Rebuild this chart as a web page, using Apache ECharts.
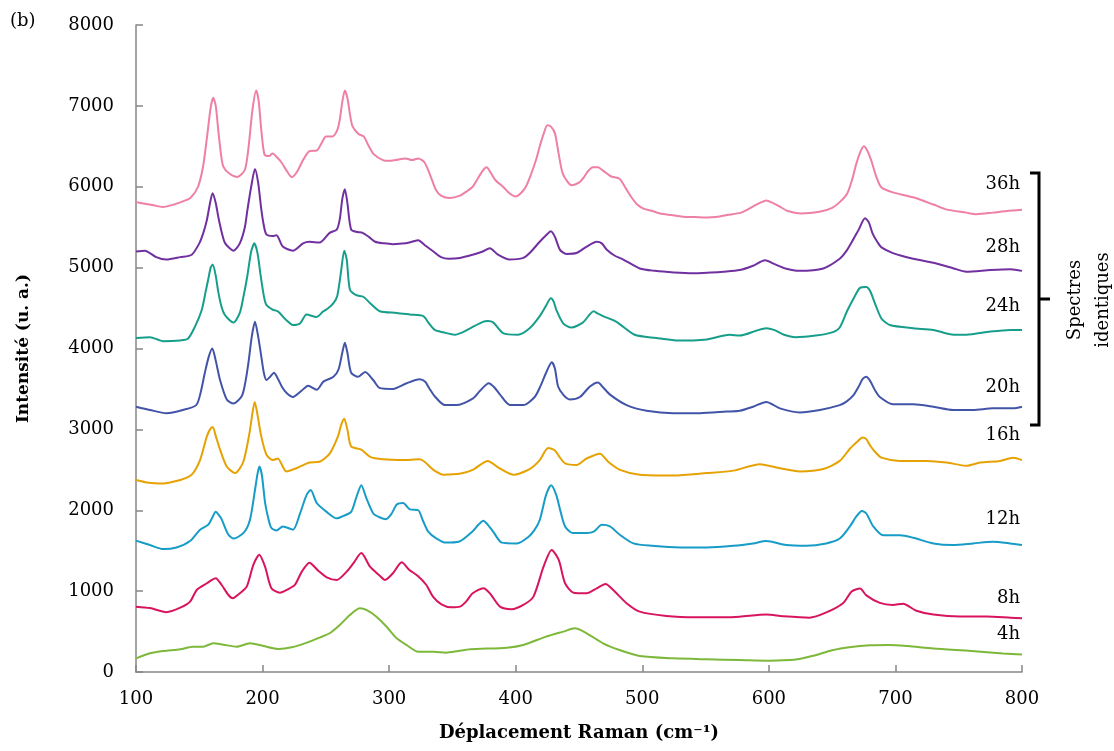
<!DOCTYPE html>
<html>
<head>
<meta charset="utf-8">
<script src="https://cdn.jsdelivr.net/npm/echarts@6/dist/echarts.min.js"></script>
<style>
html,body{margin:0;padding:0;background:#fff;}
#chart{width:1114px;height:751px;}
</style>
</head>
<body>
<div id="chart"></div>
<script>
// ---- Data (Raman shift cm-1, intensity a.u.) ----
const seriesNames = ['36h','28h','24h','20h','16h','12h','8h','4h'];
const seriesColors = ['#EE7FA5','#7030A0','#179E8A','#4254A8','#E6A202','#179CC8','#D8145F','#7DB83A'];

const s36h = [[100,5810],[107,5790],[114,5770],[121,5750],[130,5780],[137,5820],[143,5860],[149,6000],[153,6250],[156,6600],[159,6980],[161,7100],[163,7000],[165,6700],[167,6420],[169,6250],[174,6160],[180,6120],[186,6210],[189,6500],[192,6950],[195,7190],[197,7050],[199,6700],[201.5,6400],[205,6380],[208,6410],[211,6370],[215,6300],[219,6200],[223,6120],[227,6180],[232,6330],[237,6440],[243,6450],[247,6550],[250,6620],[255,6620],[259,6700],[261,6830],[263,7050],[265,7190],[267,7100],[269,6900],[271,6750],[276,6650],[280,6620],[284,6500],[288,6400],[295,6330],[300,6320],[305,6330],[313,6350],[318,6330],[323,6350],[328,6300],[333,6120],[337,5960],[341,5890],[348,5860],[356,5890],[361,5940],[366,6000],[370,6100],[374,6200],[377,6240],[380,6180],[384,6080],[390,6000],[395,5920],[400,5880],[404,5920],[408,6000],[412,6150],[416,6330],[419,6500],[422,6650],[425,6760],[428,6740],[431,6660],[434,6400],[437,6170],[441,6060],[444,6020],[450,6050],[454,6120],[457,6190],[461,6240],[465,6240],[469,6200],[475,6130],[482,6100],[487,5980],[491,5880],[496,5780],[501,5730],[508,5700],[514,5670],[523,5650],[532,5630],[542,5625],[551,5620],[560,5630],[567,5650],[578,5680],[588,5760],[593,5800],[598,5830],[603,5800],[608,5760],[615,5700],[625,5670],[640,5690],[650,5740],[656,5810],[662,5920],[666,6100],[669,6280],[672,6420],[675,6500],[678,6440],[681,6320],[685,6120],[689,5990],[698,5930],[714,5870],[730,5780],[740,5720],[756,5680],[764,5660],[777,5680],[788,5700],[800,5715]];

const s28h = [[100,5200],[107,5210],[116,5130],[124,5100],[135,5130],[144,5160],[150,5300],[153,5420],[156,5590],[158.5,5800],[160.5,5920],[163,5800],[165,5630],[168,5420],[170.5,5300],[177,5210],[182,5300],[186,5500],[188,5710],[191,6000],[194,6220],[196.5,6050],[199,5720],[201,5520],[203,5410],[208,5390],[211,5400],[216,5260],[224,5210],[232,5300],[237,5320],[245,5310],[253,5430],[258.6,5470],[261,5600],[263,5850],[265,5970],[267,5800],[270,5470],[275,5440],[279,5430],[284,5380],[289,5320],[296,5300],[303,5290],[313,5300],[318,5320],[323,5340],[328,5280],[335,5200],[341,5130],[347,5110],[356,5120],[366,5160],[374,5200],[379.5,5240],[386,5160],[395,5100],[406,5120],[411,5180],[419,5320],[424,5400],[427.7,5450],[431,5380],[435,5220],[440,5170],[448,5180],[456,5260],[464,5320],[468,5300],[472,5220],[478,5150],[485,5100],[498,4990],[510,4960],[525,4940],[540,4930],[554,4940],[564,4950],[577,4970],[587,5020],[597,5090],[605,5040],[613,4990],[624,4960],[643,4990],[656,5110],[661,5200],[666,5330],[671,5470],[676,5610],[679,5560],[682,5420],[686,5310],[689,5250],[698,5180],[714,5110],[730,5060],[746,4990],[756,4950],[775,4970],[791,4980],[800,4960]];

const s24h = [[100,4130],[111,4140],[121.5,4090],[135,4100],[141,4120],[146.6,4270],[152,4480],[155,4700],[157,4850],[159,5000],[160.6,5040],[163,4900],[165,4700],[167.5,4520],[170,4420],[174,4350],[177,4320],[182,4440],[185,4650],[188,4900],[191,5200],[193.5,5300],[196,5180],[198.5,4900],[201,4650],[203,4540],[208,4480],[212,4460],[218.8,4350],[224,4290],[229.6,4310],[234.8,4420],[242.7,4390],[248,4460],[252,4500],[256,4560],[259,4650],[262,4950],[264.5,5210],[266.5,5100],[269,4730],[274,4660],[279.6,4640],[285,4560],[292.7,4460],[305.9,4440],[316.5,4420],[327,4400],[331,4320],[336,4230],[342.8,4200],[352,4170],[358,4200],[364,4250],[374,4330],[378,4340],[382.4,4320],[390,4190],[401.7,4170],[411,4250],[419,4400],[424,4530],[427.7,4620],[430,4580],[432,4480],[437.5,4310],[444,4260],[453,4320],[461.6,4460],[465,4430],[469,4400],[479.6,4330],[494,4170],[511,4130],[527,4100],[540,4100],[551,4110],[569,4170],[577,4160],[590,4220],[598,4250],[604,4230],[612,4170],[621,4140],[637,4160],[650,4200],[656,4260],[662,4470],[668,4650],[672,4750],[677,4760],[680,4710],[684,4550],[689,4370],[695.6,4290],[714,4250],[730,4230],[746,4170],[756,4170],[775,4210],[791,4230],[800,4230]];

const s20h = [[100,3280],[111,3240],[124,3200],[137,3240],[147.6,3300],[151,3450],[154.4,3700],[157.5,3900],[160.3,4000],[163,3850],[166.4,3610],[171.7,3370],[177,3320],[183.5,3410],[186,3550],[188.8,3820],[191.5,4150],[194,4330],[196.5,4150],[199,3900],[201,3700],[203,3610],[206,3650],[209,3700],[212,3630],[215.5,3520],[219,3450],[224,3400],[231,3480],[236,3540],[242.8,3490],[248,3590],[256,3650],[260,3740],[263,3950],[265,4070],[267,3950],[270,3700],[275.5,3650],[281,3710],[287.4,3610],[292.7,3510],[303,3500],[313.8,3570],[324,3620],[328.5,3590],[332,3500],[336,3410],[344,3300],[353,3300],[366,3380],[372,3480],[378.7,3570],[383,3520],[387.6,3430],[395.5,3300],[406,3300],[415,3400],[420,3550],[424,3700],[428.5,3830],[431,3750],[433.5,3530],[438,3420],[442.7,3370],[450.7,3400],[458.6,3530],[465,3580],[469,3520],[474.5,3430],[487.6,3300],[503.4,3230],[524.5,3200],[545.6,3200],[566.6,3220],[577,3230],[587.5,3280],[598,3340],[608.7,3260],[624.5,3210],[640.3,3240],[656,3300],[661,3340],[666.7,3420],[671,3530],[674,3620],[677,3650],[680,3600],[684,3480],[687.7,3400],[698,3310],[714,3310],[730,3280],[745.6,3240],[761.4,3240],[777,3260],[793,3260],[800,3280]];

const s16h = [[100,2375],[110,2340],[119,2330],[135,2375],[144,2440],[150.6,2620],[155.9,2910],[158.5,3000],[160.6,3030],[163,2920],[166.4,2750],[171.7,2540],[178.3,2460],[184.8,2600],[189.6,2950],[192,3200],[193.8,3340],[196,3180],[199,2910],[203,2690],[208,2620],[212,2640],[218.8,2480],[226.7,2520],[237,2590],[245,2600],[253,2700],[259.5,2910],[262,3050],[264.5,3130],[267,3000],[270,2790],[278,2750],[285,2660],[295,2630],[311,2620],[324,2630],[328,2600],[335,2500],[343,2440],[355.6,2450],[366,2500],[378,2610],[386,2530],[398,2440],[411,2510],[419,2620],[425.6,2770],[431,2740],[435,2650],[439,2580],[448,2560],[456,2640],[466.5,2700],[473,2600],[482.4,2500],[498,2440],[524.5,2430],[551,2460],[572,2490],[593,2570],[608.7,2520],[624.5,2480],[643,2510],[656,2610],[664,2760],[670,2850],[674,2900],[677,2880],[680,2800],[684,2720],[689,2650],[703.6,2610],[724.6,2610],[740.5,2590],[756,2550],[767,2590],[782.6,2610],[793,2650],[800,2620]];

const s12h = [[100,1624],[111,1570],[121.6,1520],[132,1540],[142.7,1620],[150.6,1760],[157,1820],[160,1900],[163,1980],[165.5,1940],[167.6,1890],[172.9,1700],[177,1650],[185,1720],[190,1880],[194,2250],[196,2450],[197.5,2540],[199.5,2430],[202,2090],[204.5,1900],[207,1780],[211,1750],[216,1800],[224,1760],[229.6,1960],[234.8,2190],[238,2250],[242.8,2090],[250.6,1980],[258.5,1900],[263.8,1930],[270,1980],[274.3,2170],[278,2310],[282,2150],[287.5,1960],[292.8,1910],[297.5,1890],[302,1960],[306,2070],[311,2090],[316.4,2010],[323,2000],[326.5,1880],[330.7,1740],[337.5,1650],[345,1600],[355,1610],[366,1740],[370.5,1820],[374.4,1870],[378,1820],[382,1740],[389,1600],[401,1590],[410,1670],[415,1760],[419,1880],[424,2190],[428,2310],[432,2190],[435.5,1980],[439,1800],[445,1720],[456,1720],[462,1740],[468,1820],[474.5,1800],[482,1700],[493,1590],[508,1560],[530,1540],[551,1540],[572,1560],[587.5,1590],[598,1620],[613.6,1570],[629.5,1560],[645.3,1590],[656,1650],[664,1800],[669,1920],[673.6,1990],[677,1960],[682.5,1800],[690.4,1690],[703.6,1690],[714,1660],[730,1590],[745.6,1570],[761.4,1590],[777,1610],[790.6,1590],[800,1570]];

const s8h = [[100,808],[111,790],[124,740],[135,795],[142.7,870],[148,1014],[156,1097],[160,1140],[163,1160],[167.7,1076],[173,952],[176.4,912],[182,973],[187.5,1055],[192.7,1324],[197.4,1450],[202,1300],[207,1035],[213.7,981],[220,1023],[225.5,1076],[231,1241],[237,1352],[244,1253],[250.7,1171],[258.5,1138],[266.4,1241],[272,1350],[278,1470],[284.9,1303],[292.8,1188],[296.7,1138],[303,1221],[309.9,1357],[316,1262],[322.7,1188],[329.4,1076],[334.6,932],[341.3,837],[349.2,800],[356,808],[360.8,870],[366,973],[374.4,1035],[379.6,973],[387.6,808],[396.7,776],[406,829],[414,932],[422,1303],[428.4,1509],[434,1385],[439,1097],[445.7,981],[456,973],[464,1035],[471,1089],[477,1014],[487.6,850],[498,746],[519,693],[542.6,677],[563.7,677],[577,684],[598,710],[611,690],[632,672],[645,734],[658.8,854],[665.4,996],[672,1033],[677,948],[687.7,854],[698,829],[706,844],[716.6,757],[730,710],[751,687],[772,687],[791,672],[800,665]];

const s4h = [[100,169],[111,231],[121.6,260],[135,281],[145,313],[153,313],[161,355],[169,338],[179.6,313],[190,355],[200.6,322],[212.5,285],[223,305],[235,363],[245.6,429],[253,479],[261,581],[269,705],[277,788],[282,767],[290,684],[298,560],[306,416],[313.8,334],[323,251],[335,251],[345,239],[354.6,260],[363.9,281],[393,301],[406,334],[424,437],[437.5,499],[446.7,540],[456,479],[469,355],[482,272],[498,198],[524.5,169],[551,157],[577,148],[600,140],[620,150],[635,200],[650,270],[665,310],[680,330],[695,335],[710,320],[730,290],[760,260],[785,230],[800,215]];

const seriesData = [s36h, s28h, s24h, s20h, s16h, s12h, s8h, s4h];

// label vertical pixel positions for series names
const labelY = [186, 249, 308, 389, 437, 521, 600, 636];

const FONT = 'DejaVu Serif';
const chart = echarts.init(document.getElementById('chart'), null, {renderer:'canvas'});

const series = seriesNames.map((n,i)=>({
  name:n, type:'line', data:seriesData[i], showSymbol:false, smooth:0.25,
  lineStyle:{color:seriesColors[i], width:2}, itemStyle:{color:seriesColors[i]},
  animation:false, z: 2
}));

const graphics = [];
seriesNames.forEach((n,i)=>{
  graphics.push({type:'text', right: 94, top: labelY[i]-11,
    style:{text:n, font:'18px '+FONT, fill:'#000', textAlign:'right'}});
});
graphics.push({type:'text', left: 10, top: 12, style:{text:'(b)', font:'18px '+FONT, fill:'#000'}});
// bracket
graphics.push({type:'polyline', shape:{points:[[1030,173],[1039,173],[1039,425],[1030,425]]}, style:{stroke:'#000', lineWidth:3, fill:null}});
graphics.push({type:'line', shape:{x1:1039,y1:299,x2:1050,y2:299}, style:{stroke:'#000', lineWidth:3}});
graphics.push({type:'text', x:1089, y:300, rotation:Math.PI/2,
  style:{text:'Spectres\nidentiques', font:'18px '+FONT, fill:'#000', textAlign:'center', textVerticalAlign:'middle', lineHeight:28}});

chart.setOption({
  backgroundColor:'#fff',
  animation:false,
  grid:{left:136, right:92, top:25, bottom:79, containLabel:false},
  xAxis:{type:'value', min:100, max:800, interval:100,
    name:'Déplacement Raman (cm⁻¹)', nameLocation:'middle', nameGap:52,
    nameTextStyle:{fontFamily:FONT, fontWeight:'bold', fontSize:18, color:'#000'},
    axisLine:{lineStyle:{color:'#868686', width:1.5}},
    axisTick:{inside:true, length:7, lineStyle:{color:'#868686', width:1.5}},
    axisLabel:{fontFamily:FONT, fontSize:18, color:'#000', margin:18, formatter: v => String(v)},
    splitLine:{show:false}},
  yAxis:{type:'value', min:0, max:8000, interval:1000,
    name:'Intensité (u. a.)', nameLocation:'middle', nameGap:104, nameRotate:90,
    nameTextStyle:{fontFamily:FONT, fontWeight:'bold', fontSize:17, color:'#000'},
    axisLine:{show:true, lineStyle:{color:'#868686', width:1.5}},
    axisTick:{show:true, inside:true, length:7, lineStyle:{color:'#868686', width:1.5}},
    axisLabel:{fontFamily:FONT, fontSize:18, color:'#000', margin:22, formatter: v => String(v)},
    splitLine:{show:false}},
  series: series,
  graphic: graphics
});
</script>
</body>
</html>
